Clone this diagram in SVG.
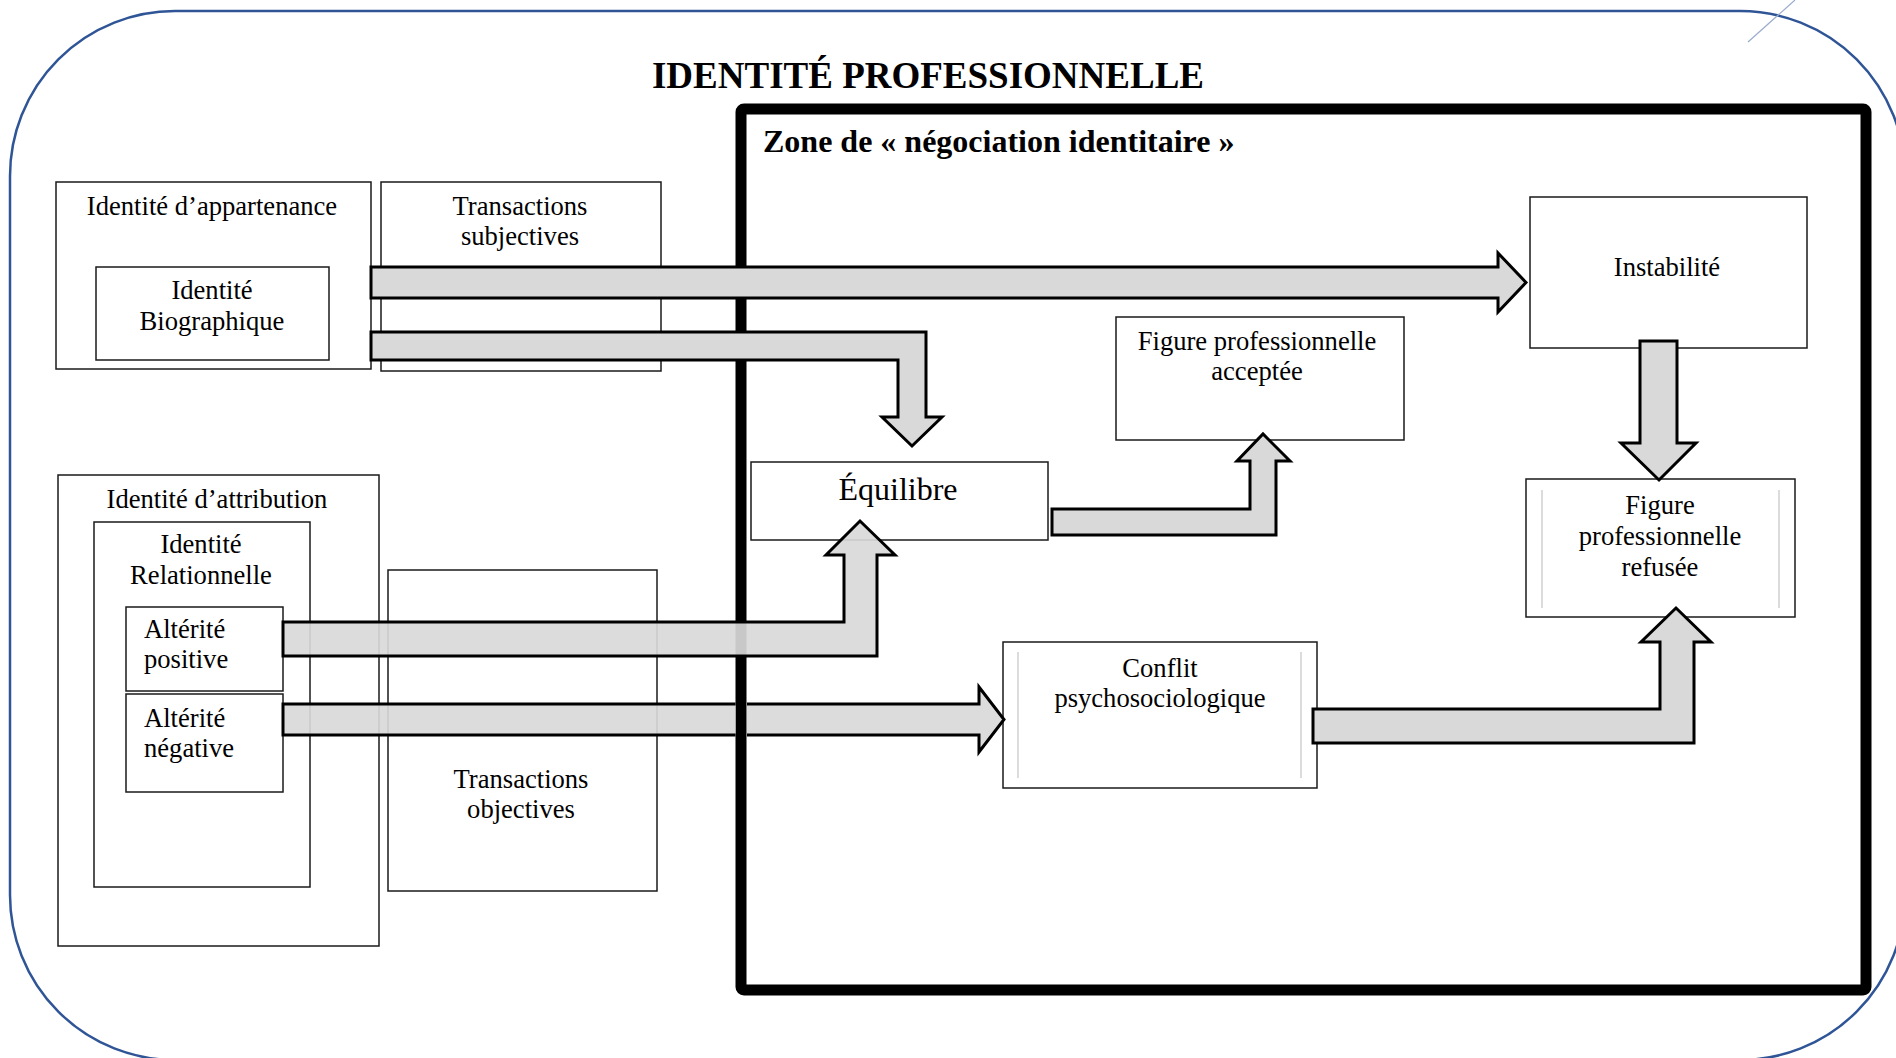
<svg xmlns="http://www.w3.org/2000/svg" width="1896" height="1058" viewBox="0 0 1896 1058">
  <style>
    .t{font-family:"Liberation Serif","Times New Roman",serif;font-size:26.6px;fill:#000}
    .c{text-anchor:middle}
    .b{font-weight:bold}
    .h1{font-size:37px}
    .h2{font-size:32px}
    .big{font-size:32px}
    .box{fill:none;stroke:#1a1a1a;stroke-width:1.5}
    .wbox{fill:#fff;stroke:#1a1a1a;stroke-width:1.5}
    .inner{stroke:#c4c4c4;stroke-width:1.2}
    .arrow{fill:#d9d9d9;stroke:#000;stroke-width:3;stroke-linejoin:miter}
    .see{fill-opacity:0.92}
  </style>
  <defs>
    <!-- lets the zone frame stay visible where the lower arrow crosses it -->
    <mask id="frameGap" maskUnits="userSpaceOnUse" x="0" y="0" width="1896" height="1058">
      <rect x="0" y="0" width="1896" height="1058" fill="#fff"/>
      <rect x="735.5" y="680" width="11.5" height="80" fill="#000"/>
    </mask>
  </defs>

  <rect width="1896" height="1058" fill="#fff"/>

  <!-- outer rounded frame -->
  <g id="frame">
    <rect x="10" y="11" width="1895" height="1049" rx="165" ry="165" fill="none" stroke="#2f5597" stroke-width="2.5"/>
    <line x1="1748" y1="42" x2="1795" y2="0" stroke="#9aaccc" stroke-width="1.2"/>
  </g>

  <text id="title" class="t c b h1" x="928" y="88">IDENTITÉ PROFESSIONNELLE</text>

  <!-- negotiation zone -->
  <g id="zone">
    <rect x="741" y="109" width="1125" height="881" rx="3" fill="none" stroke="#000" stroke-width="11"/>
    <text class="t b h2" x="763" y="152">Zone de « négociation identitaire »</text>
  </g>

  <!-- left column -->
  <g id="appartenance">
    <rect class="box" x="56" y="182" width="315" height="187"/>
    <text class="t c" x="212" y="215">Identité d’appartenance</text>
  </g>
  <g id="biographique">
    <rect class="box" x="96" y="267" width="233" height="93"/>
    <text class="t c" x="212" y="299">Identité</text>
    <text class="t c" x="212" y="330">Biographique</text>
  </g>
  <g id="subjectives">
    <rect class="box" x="381" y="182" width="280" height="189"/>
    <text class="t c" x="520" y="215">Transactions</text>
    <text class="t c" x="520" y="245">subjectives</text>
  </g>
  <g id="attribution">
    <rect class="box" x="58" y="475" width="321" height="471"/>
    <text class="t c" x="217" y="508">Identité d’attribution</text>
  </g>
  <g id="relationnelle">
    <rect class="box" x="94" y="522" width="216" height="365"/>
    <text class="t c" x="201" y="553">Identité</text>
    <text class="t c" x="201" y="584">Relationnelle</text>
  </g>
  <g id="alterite-positive">
    <rect class="wbox" x="126" y="607" width="157" height="84"/>
    <text class="t" x="144" y="638">Altérité</text>
    <text class="t" x="144" y="668">positive</text>
  </g>
  <g id="alterite-negative">
    <rect class="wbox" x="126" y="694" width="157" height="98"/>
    <text class="t" x="144" y="727">Altérité</text>
    <text class="t" x="144" y="757">négative</text>
  </g>
  <g id="objectives">
    <rect class="box" x="388" y="570" width="269" height="321"/>
    <text class="t c" x="521" y="788">Transactions</text>
    <text class="t c" x="521" y="818">objectives</text>
  </g>

  <!-- outcomes inside the zone -->
  <g id="equilibre">
    <rect class="wbox" x="751" y="462" width="297" height="78"/>
    <text class="t c big" x="898" y="500">Équilibre</text>
  </g>
  <g id="acceptee">
    <rect class="wbox" x="1116" y="317" width="288" height="123"/>
    <text class="t c" x="1257" y="350">Figure professionnelle</text>
    <text class="t c" x="1257" y="380">acceptée</text>
  </g>
  <g id="instabilite">
    <rect class="wbox" x="1530" y="197" width="277" height="151"/>
    <text class="t c" x="1667" y="276">Instabilité</text>
  </g>
  <g id="conflit">
    <rect class="wbox" x="1003" y="642" width="314" height="146"/>
    <line class="inner" x1="1018" y1="652" x2="1018" y2="778"/>
    <line class="inner" x1="1301" y1="652" x2="1301" y2="778"/>
    <text class="t c" x="1160" y="677">Conflit</text>
    <text class="t c" x="1160" y="707">psychosociologique</text>
  </g>
  <g id="refusee">
    <rect class="wbox" x="1526" y="479" width="269" height="138"/>
    <line class="inner" x1="1542" y1="490" x2="1542" y2="608"/>
    <line class="inner" x1="1779" y1="490" x2="1779" y2="608"/>
    <text class="t c" x="1660" y="514">Figure</text>
    <text class="t c" x="1660" y="545">professionnelle</text>
    <text class="t c" x="1660" y="576">refusée</text>
  </g>

  <!-- block arrows -->
  <g id="connectors">
    <path class="arrow" d="M371,267 H1498 V253 L1526,282.5 L1498,312 V298 H371 Z"/>
    <path class="arrow" d="M371,332 H926 V417 H942 L912,446 L882,417 H898 V360 H371 Z"/>
    <path class="arrow see" d="M283,622 H844 V555 H826 L860,521 L895,555 H877 V656 H283 Z"/>
    <path class="arrow see" mask="url(#frameGap)" d="M283,704 H979 V687 L1004,719.5 L979,752 V735 H283 Z"/>
    <path class="arrow" d="M1052,509 H1250 V461 H1237 L1263,434 L1290,461 H1276 V535 H1052 Z"/>
    <path class="arrow" d="M1640,341 H1677 V443 H1696 L1659,480 L1621,443 H1640 Z"/>
    <path class="arrow" d="M1313,709 H1660 V642 H1641 L1676,608 L1711,642 H1694 V743 H1313 Z"/>
  </g>
</svg>
